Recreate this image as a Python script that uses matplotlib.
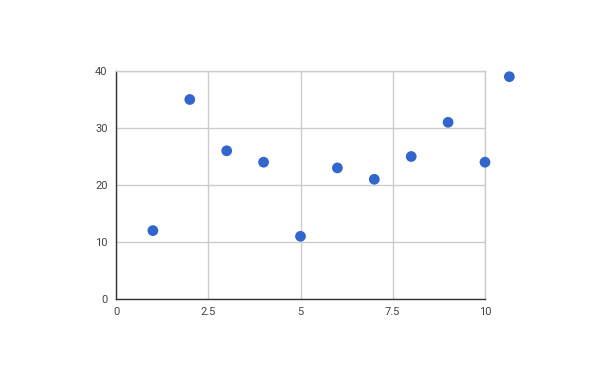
import matplotlib
matplotlib.use("Agg")
import matplotlib.pyplot as plt

x_vals = [1, 2, 3, 4, 5, 6, 7, 8, 9, 10, 10.66]
y_vals = [12, 35, 26, 24, 11, 23, 21, 25, 31, 24, 39]
x_ticks = [0, 2.5, 5, 7.5, 10]
x_tick_labels = ["0", "2.5", "5", "7.5", "10"]
y_ticks = [0, 10, 20, 30, 40]
y_tick_labels = ["0", "10", "20", "30", "40"]

plt.rcParams['font.family'] = ['Roboto', 'DejaVu Sans']
fig = plt.figure(figsize=(6, 3.71), dpi=100)
ax = fig.add_axes([116/600, 1 - 299/371, (485-116)/600, (299-71)/371])
ax.set_xlim(0, 10)
ax.set_ylim(0, 40)
ax.set_xticks(x_ticks)
ax.set_xticklabels(x_tick_labels)
ax.set_yticks(y_ticks)
ax.set_yticklabels(y_tick_labels)
ax.grid(True, color='#cccccc', linewidth=1)
ax.set_axisbelow(True)
for s in ['top', 'right']:
    ax.spines[s].set_color('#cccccc')
    ax.spines[s].set_linewidth(1)
for s in ['left', 'bottom']:
    ax.spines[s].set_color('#333333')
    ax.spines[s].set_linewidth(1)
ax.tick_params(length=0, labelsize=8, colors='#444444', pad=6)
ax.scatter(x_vals, y_vals, s=60, color='#3366cc', edgecolors='none', clip_on=False, zorder=3)
fig.savefig('out.png', dpi=100)
